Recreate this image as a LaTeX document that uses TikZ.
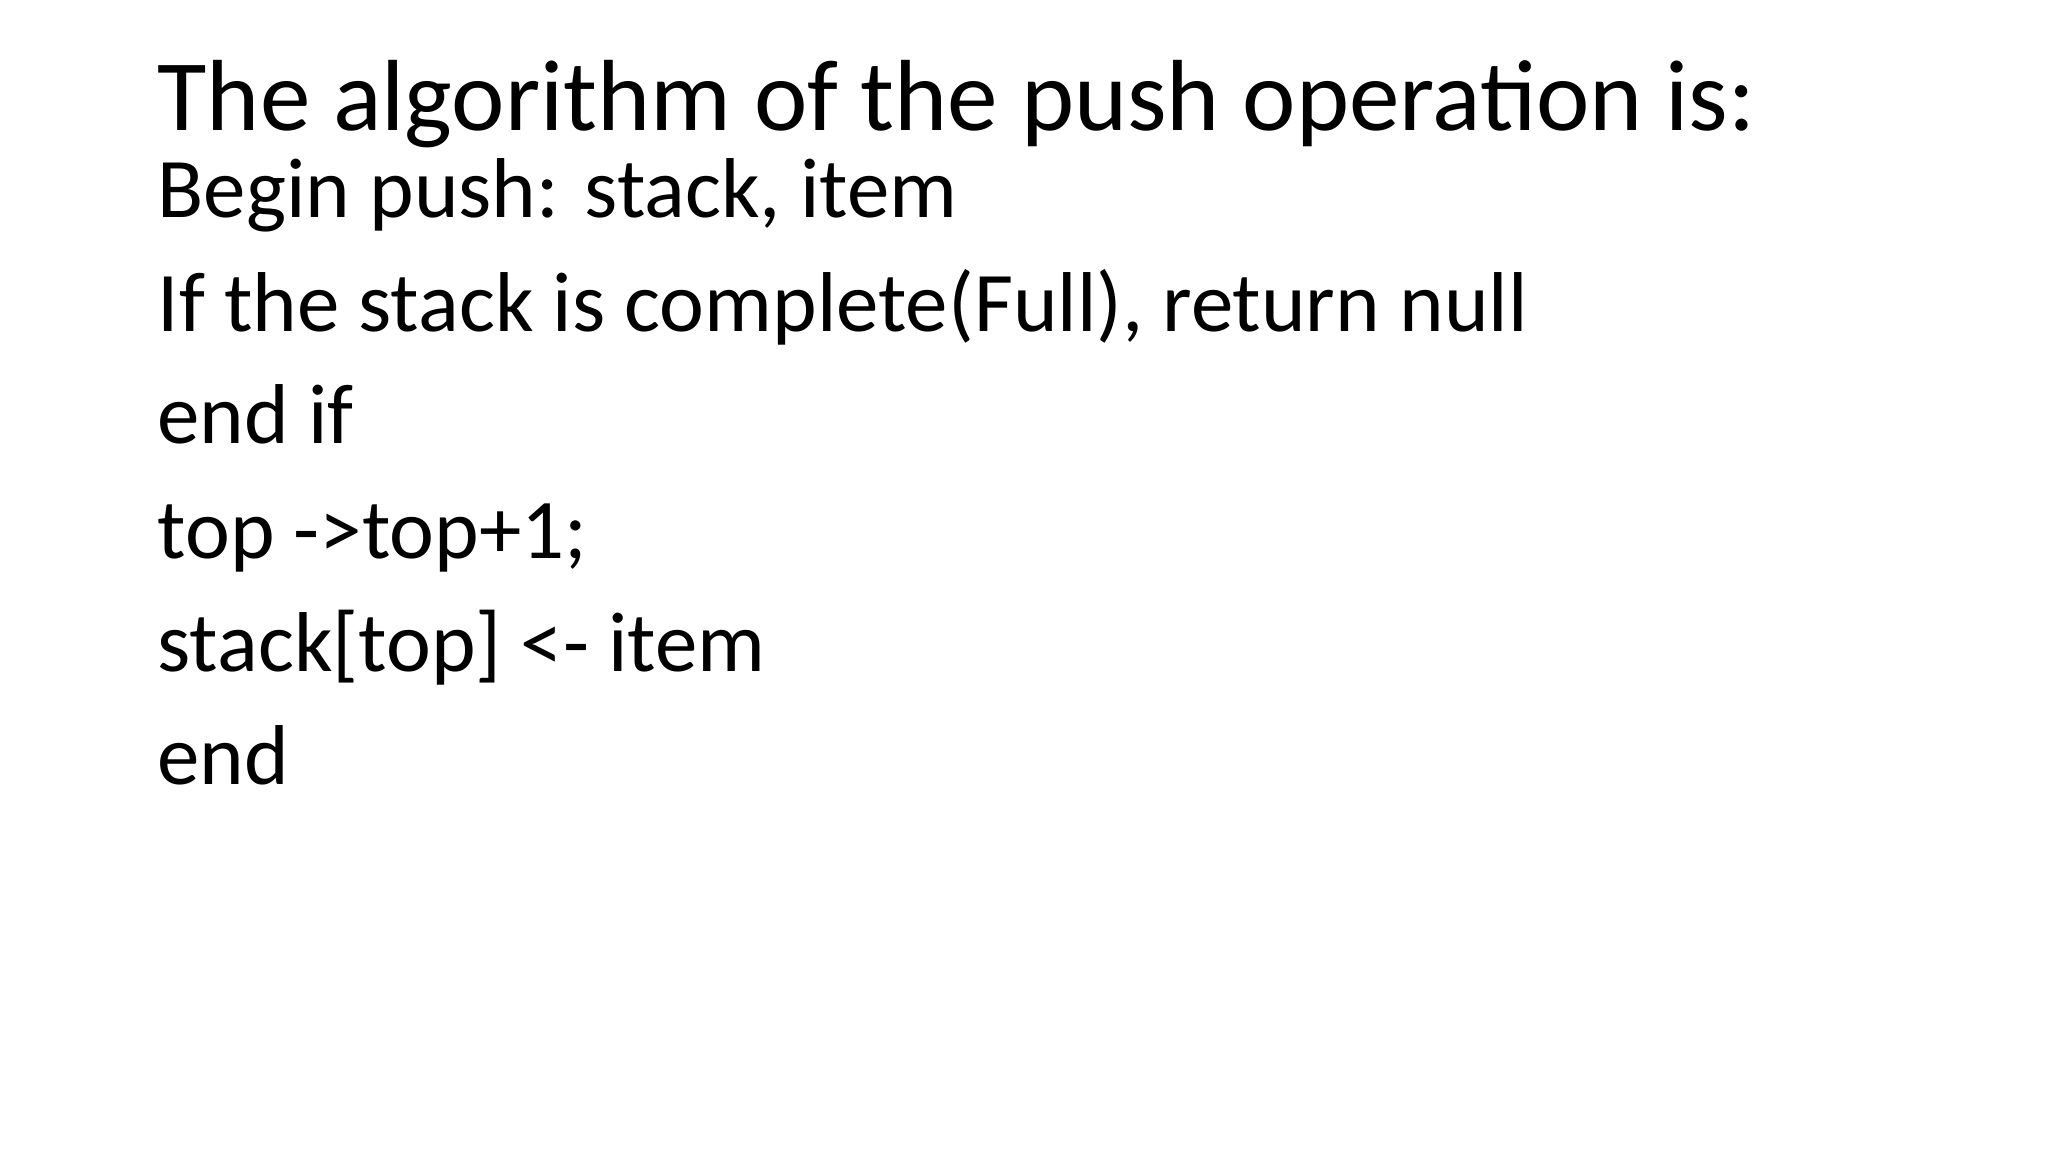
\documentclass[tikz,border=0pt]{standalone}
\usepackage{fontspec}
\setmainfont{Carlito}
\begin{document}
\begin{tikzpicture}[x=0.01cm,y=-0.01cm,
  title/.style={anchor=base west,inner sep=0pt,font=\fontsize{28.75}{34}\selectfont},
  body/.style={anchor=base west,inner sep=0pt,font=\fontsize{24.15}{29}\selectfont}]
\useasboundingbox (0,0) rectangle (2048,1152);
\node[title] (t) at (157,131) {The algorithm of the push operation is:};
\node[body] (l1) at (157,218) {Begin push: stack, item};
\node[body] (l2) at (157,332) {If the stack is complete(Full), return null};
\node[body] (l3) at (157,444) {end if};
\node[body] (l4) at (157,558) {top -\textgreater top+1;};
\node[body] (l5) at (157,671) {stack[top] \textless- item};
\node[body] (l6) at (157,784) {end};
\end{tikzpicture}
\end{document}
